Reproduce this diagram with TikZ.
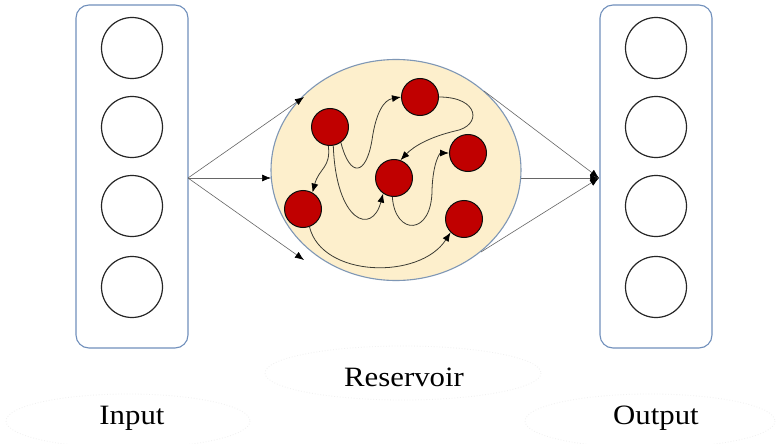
\documentclass[tikz,border=0pt]{standalone}
\usepackage{fontspec}
\setmainfont{Liberation Serif}
\usetikzlibrary{arrows.meta,shapes.geometric}
\definecolor{boxline}{HTML}{7190BC}
\definecolor{cream}{HTML}{FDEFCC}
\definecolor{resline}{HTML}{7F97B5}
\definecolor{neuron}{HTML}{C00000}
\definecolor{wire}{HTML}{3C3C34}
\tikzset{
  layerbox/.style={draw=boxline, line width=1.1pt, rounded corners=13pt, minimum width=112pt, minimum height=343pt, inner sep=0pt},
  unit/.style={circle, draw=black!85, line width=1.2pt, minimum size=61pt, inner sep=0pt},
  cell/.style={circle, draw=black!95, fill=neuron, line width=1pt, minimum size=37pt, inner sep=0pt},
  feed/.style={draw=black!60, line width=0.6pt, -{Latex[length=9pt,width=7pt,color=black,fill=black]}},
  link/.style={draw=wire, line width=0.8pt, -{Latex[length=9pt,width=7pt,color=black,fill=black]}},
  caption/.style={font=\fontsize{28}{32}\selectfont, inner sep=0pt},
  halo/.style={draw=black!6, dotted, line width=0.8pt}
}
\begin{document}
\begin{tikzpicture}[x=1pt, y=-1pt]
\useasboundingbox (0,0) rectangle (780,444);
\fill[white] (0,0) rectangle (780,444);

% faint label outlines
\draw[halo] (403,373) ellipse [x radius=138, y radius=27];
\draw[halo] (128,421) ellipse [x radius=122, y radius=27];
\draw[halo] (650,421) ellipse [x radius=125, y radius=27];

% input and output layers
\node[layerbox] (inbox) at (132,176.5) {};
\node[layerbox] (outbox) at (656,176.5) {};
\foreach \i/\y in {1/48,2/127,3/206,4/287}{
  \node[unit] (in\i) at (132,\y) {};
  \node[unit] (out\i) at (656,\y) {};
}

% reservoir
\node[ellipse, draw=resline, fill=cream, line width=1.1pt, minimum width=250pt, minimum height=221pt, inner sep=0pt] (res) at (396,170) {};

\coordinate (src) at (188,178);
\coordinate (sink) at (599,178);
\coordinate (r1) at (304,97);
\coordinate (r2) at (271,178);
\coordinate (r3) at (304,260);
\coordinate (q1) at (484,91);
\coordinate (q2) at (521,178);
\coordinate (q3) at (481,252);

\draw[feed] (src) -- (r1);
\draw[feed] (src) -- (r2);
\draw[feed] (src) -- (r3);
\draw[feed] (q1) -- (sink);
\draw[feed] (q2) -- (sink);
\draw[feed] (q3) -- (sink);

% reservoir neurons
\node[cell] (A) at (330,127) {};
\node[cell] (B) at (420,97) {};
\node[cell] (C) at (468,153) {};
\node[cell] (D) at (394,178) {};
\node[cell] (E) at (303,209) {};
\node[cell] (F) at (464,219) {};

% recurrent connections
\draw[link] (A.-55) .. controls (350,178) and (366,176) .. (372,140)
            .. controls (376,112) and (384,100) .. (B.west);
\draw[link] (B.east) .. controls (480,97) and (482,126) .. (455,131)
            .. controls (430,137) and (414,146) .. (D.70);
\draw[link] (A.-95) .. controls (331,168) and (319,168) .. (E.60);
\draw[link] (A.-80) .. controls (336,222) and (372,236) .. (D.-125);
\draw[link] (D.-95) .. controls (395,236) and (432,236) .. (432,190)
            .. controls (433,162) and (440,153) .. (C.west);
\draw[link] (E.-70) .. controls (322,278) and (420,280) .. (F.-135);

% labels
\node[caption] (lres) at (404,377) {\scalebox{1.1}[1]{Reservoir}};
\node[caption] (lin) at (132,418) {\scalebox{1.1}[1]{Input}};
\node[caption] (lout) at (656,418) {\scalebox{1.1}[1]{Output}};
\end{tikzpicture}
\end{document}
